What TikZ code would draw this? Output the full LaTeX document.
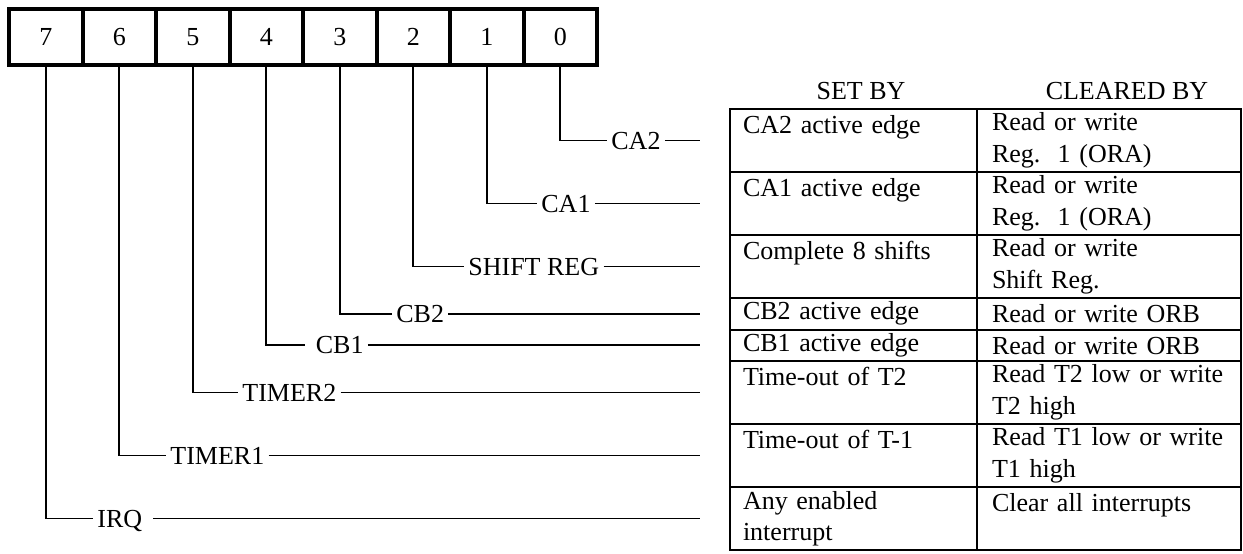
\documentclass[tikz,border=0pt]{standalone}
\usepackage{fontspec}
\setmainfont{Liberation Serif}
\usetikzlibrary{positioning}

\begin{document}
\begin{tikzpicture}[x=0.5pt,y=-0.5pt,
  every node/.style={font=\fontsize{13}{15.75}\selectfont},
  bitcell/.style={draw,line width=2pt,outer sep=0pt,inner sep=0pt,minimum width=36.75pt,minimum height=28pt},
  wire/.style={line width=0.85pt},
  flag/.style={anchor=west,inner xsep=2pt,inner ysep=0pt,text height=8.6pt,text depth=0pt},
  setcell/.style={draw,line width=1pt,outer sep=0pt,anchor=north west,align=left,inner xsep=6.5pt,inner ysep=1pt,text width=110.5pt,minimum width=123.5pt},
  clrcell/.style={draw,line width=1pt,outer sep=0pt,anchor=north west,align=left,inner xsep=7.5pt,inner ysep=1pt,text width=117pt,minimum width=132pt},
  tworow/.style={minimum height=31.5pt},
  onerow/.style={minimum height=15.75pt}]
\useasboundingbox (0,0) rectangle (1243,553);

% interrupt flag register
\node[bitcell] (b7) at (45.75,37) {7};
\node[bitcell,right=0pt of b7] (b6) {6};
\node[bitcell,right=0pt of b6] (b5) {5};
\node[bitcell,right=0pt of b5] (b4) {4};
\node[bitcell,right=0pt of b4] (b3) {3};
\node[bitcell,right=0pt of b3] (b2) {2};
\node[bitcell,right=0pt of b2] (b1) {1};
\node[bitcell,right=0pt of b1] (b0) {0};

% set / cleared table
\node (hset) at (861,91) {SET BY};
\node (hclr) at (1127,91) {CLEARED BY};
\node[setcell,tworow] (s1) at (730,109) {CA2 active edge\\~};
\node[clrcell,tworow] (c1) at (s1.north east) {Read or write\\Reg.\ \ 1 (ORA)};
\node[setcell,tworow] (s2) at (s1.south west) {CA1 active edge\\~};
\node[clrcell,tworow] (c2) at (s2.north east) {Read or write\\Reg.\ \ 1 (ORA)};
\node[setcell,tworow] (s3) at (s2.south west) {Complete 8 shifts\\~};
\node[clrcell,tworow] (c3) at (s3.north east) {Read or write\\Shift Reg.};
\node[setcell,onerow] (s4) at (s3.south west) {CB2 active edge};
\node[clrcell,onerow] (c4) at (s4.north east) {Read or write ORB};
\node[setcell,onerow] (s5) at (s4.south west) {CB1 active edge};
\node[clrcell,onerow] (c5) at (s5.north east) {Read or write ORB};
\node[setcell,tworow] (s6) at (s5.south west) {Time-out of T2\\~};
\node[clrcell,tworow] (c6) at (s6.north east) {Read T2 low or write\\T2 high};
\node[setcell,tworow] (s7) at (s6.south west) {Time-out of T-1\\~};
\node[clrcell,tworow] (c7) at (s7.north east) {Read T1 low or write\\T1 high};
\node[setcell,tworow] (s8) at (s7.south west) {Any enabled\\interrupt};
\node[clrcell,tworow] (c8) at (s8.north east) {Clear all interrupts\\~};

% flag names
\node[flag] (fca2) at (607,140.5) {CA2};
\node[flag] (fca1) at (537,203.5) {CA1};
\node[flag] (fsr) at (464,266.5) {SHIFT REG};
\node[flag] (fcb2) at (392,313.75) {CB2};
\node[flag] (fcb1) at (305,345.25) {\ CB1};
\node[flag] (ft2) at (238,392.5) {TIMER2};
\node[flag] (ft1) at (166,455.5) {TIMER1\ };
\node[flag] (firq) at (93,518.5) {IRQ\ \ };

\draw[wire] (b0.south) |- (fca2.west);
\draw[wire] (b1.south) |- (fca1.west);
\draw[wire] (b2.south) |- (fsr.west);
\draw[wire] (b3.south) |- (fcb2.west);
\draw[wire] (b4.south) |- (fcb1.west);
\draw[wire] (b5.south) |- (ft2.west);
\draw[wire] (b6.south) |- (ft1.west);
\draw[wire] (b7.south) |- (firq.west);
\draw[wire] (fca2.east) -- ([xshift=-15pt]s1.west);
\draw[wire] (fca1.east) -- ([xshift=-15pt]s2.west);
\draw[wire] (fsr.east) -- ([xshift=-15pt]s3.west);
\draw[wire] (fcb2.east) -- ([xshift=-15pt]s4.west);
\draw[wire] (fcb1.east) -- ([xshift=-15pt]s5.west);
\draw[wire] (ft2.east) -- ([xshift=-15pt]s6.west);
\draw[wire] (ft1.east) -- ([xshift=-15pt]s7.west);
\draw[wire] (firq.east) -- ([xshift=-15pt]s8.west);
\end{tikzpicture}
\end{document}
